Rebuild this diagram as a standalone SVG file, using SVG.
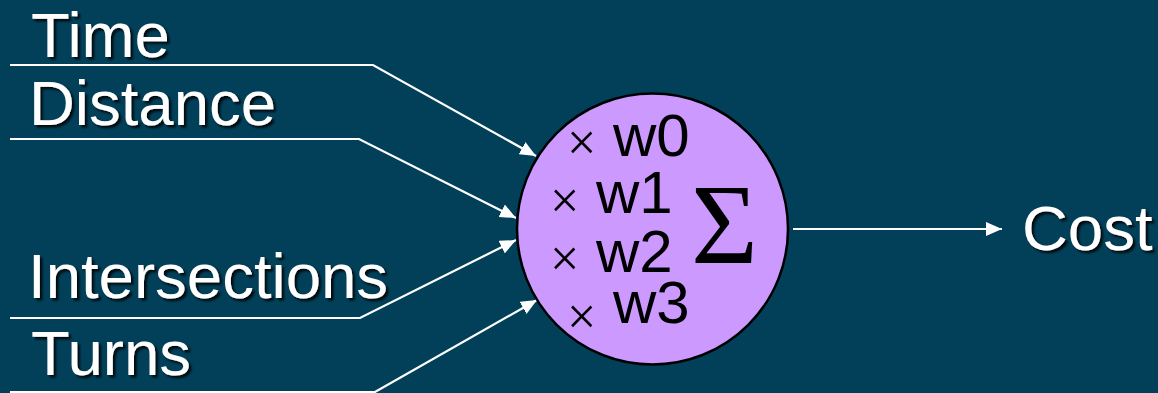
<svg xmlns="http://www.w3.org/2000/svg" width="1158" height="393" viewBox="0 0 1158 393">
  <defs>
    <marker id="head" viewBox="0 0 16 14" refX="16" refY="7" markerWidth="16" markerHeight="14" markerUnits="userSpaceOnUse" orient="auto">
      <path d="M0,0 L16,7 L0,14 Z" fill="#ffffff"/>
    </marker>
    <filter id="shadow" x="-10%" y="-20%" width="130%" height="150%">
      <feDropShadow dx="2.5" dy="2.5" stdDeviation="1.2" flood-color="#000000" flood-opacity="0.85"/>
    </filter>
  </defs>
  <style>
    .label { font-family: "Liberation Sans", Arial, sans-serif; font-size: 63.5px; fill: #ffffff; filter: url(#shadow); }
    .wire { fill: none; stroke: #ffffff; stroke-width: 2.2; stroke-linejoin: miter; }
    .weight { font-family: "Liberation Sans", Arial, sans-serif; font-size: 60px; fill: #000000; }
    .times { font-family: "Liberation Serif", "Times New Roman", serif; font-size: 52px; }
  </style>

  <rect x="0" y="0" width="1158" height="393" fill="#024059"/>

  <!-- input wires and output arrow -->
  <g id="connectors">
    <polyline class="wire" points="10,65 373,65 536,156" marker-end="url(#head)"/>
    <polyline class="wire" points="10,139 359,139 516,218" marker-end="url(#head)"/>
    <polyline class="wire" points="10,318 360,318 516,240" marker-end="url(#head)"/>
    <polyline class="wire" points="10,392 375,392 537,300" marker-end="url(#head)"/>
    <line class="wire" x1="793" y1="229" x2="1002" y2="229" marker-end="url(#head)"/>
  </g>

  <g id="input-time"><text class="label" x="31" y="57">Time</text></g>
  <g id="input-distance"><text class="label" x="29" y="125">Distance</text></g>
  <g id="input-intersections"><text class="label" x="28" y="298">Intersections</text></g>
  <g id="input-turns"><text class="label" x="31" y="375">Turns</text></g>

  <!-- weighted sum unit: one "× wN" row per input, then the sigma -->
  <g id="neuron">
    <circle cx="652.5" cy="229" r="135.5" fill="#cc99ff" stroke="#000000" stroke-width="2.5"/>
    <text class="weight" x="567" y="160"><tspan class="times">×</tspan><tspan x="613" y="156">w0</tspan></text>
    <text class="weight" x="550" y="218"><tspan class="times">×</tspan><tspan x="596" y="213">w1</tspan></text>
    <text class="weight" x="550" y="276"><tspan class="times">×</tspan><tspan x="596" y="272">w2</tspan></text>
    <text class="weight" x="567" y="334"><tspan class="times">×</tspan><tspan x="613" y="323">w3</tspan></text>
    <text x="691" y="263" font-family="'Liberation Serif', 'Times New Roman', serif" font-size="115" fill="#000000">Σ</text>
  </g>

  <g id="output-cost"><text class="label" x="1022" y="250">Cost</text></g>
</svg>
